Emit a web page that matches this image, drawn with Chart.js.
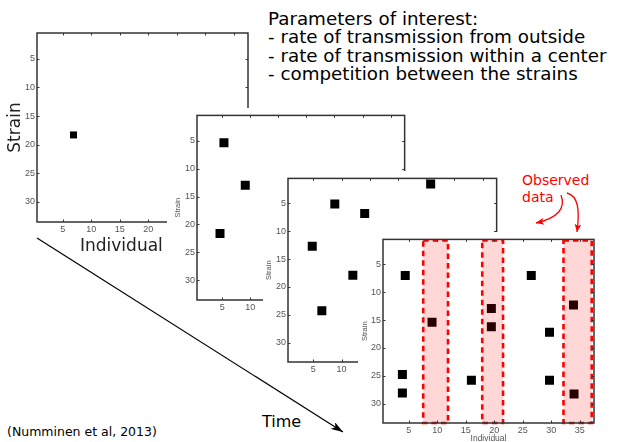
<!DOCTYPE html>
<html>
<head>
<meta charset="utf-8">
<script src="https://cdn.jsdelivr.net/npm/chart.js@4.4.1/dist/chart.umd.min.js"></script>
<style>
  html, body { margin: 0; padding: 0; background: #fff; }
  #stage { position: relative; width: 622px; height: 442px; overflow: hidden; background: #fff;
           font-family: "DejaVu Sans", sans-serif; }
  .panel { position: absolute; background: #fff; display: block; }
  .txt { position: absolute; white-space: nowrap; color: #000; }
  #overlay { position: absolute; left: 0; top: 0; }
</style>
</head>
<body>
<div id="stage">
  <canvas id="snap1" class="panel"></canvas>
  <div class="txt" style="left:80px; top:234px; font-size:17px; line-height:22px; color:#222;">Individual</div>
  <canvas id="snap2" class="panel"></canvas>
  <canvas id="snap3" class="panel"></canvas>
  <canvas id="snap4" class="panel"></canvas>

  <div class="txt" style="left:268px; top:10px; font-size:18.3px; line-height:18.35px;">
    Parameters of interest:<br>- rate of transmission from outside<br>- rate of transmission within a center<br>- competition between the strains
  </div>
  <div class="txt" style="left:522px; top:172px; font-size:14px; line-height:16.6px; color:#ff0000;">Observed<br>data</div>
  <div class="txt" style="left:262px; top:412px; font-size:16px; line-height:19px;">Time</div>
  <div class="txt" style="left:7px; top:424px; font-size:12.5px; line-height:16px;">(Numminen et al, 2013)</div>

  <svg id="overlay" width="622" height="442" viewBox="0 0 622 442">
    <defs>
      <marker id="headBlack" viewBox="0 0 12 8" refX="12" refY="4" markerWidth="12" markerHeight="8"
              markerUnits="userSpaceOnUse" orient="auto">
        <path d="M0,0 L12,4 L0,8 L3,4 Z" fill="#000"/>
      </marker>
      <marker id="headRed" viewBox="0 0 8 7" refX="8" refY="3.5" markerWidth="8" markerHeight="7"
              markerUnits="userSpaceOnUse" orient="auto">
        <path d="M0,0 L8,3.5 L0,7 L2,3.5 Z" fill="#ff0000"/>
      </marker>
    </defs>
    <!-- time runs from the first snapshot towards the observed one -->
    <line x1="37" y1="238" x2="343" y2="432" stroke="#000" stroke-width="1.2" marker-end="url(#headBlack)"/>
    <!-- pointers from the note to the sampled columns -->
    <path d="M561,195 C566,208 558,218 536,223" fill="none" stroke="#ff0000" stroke-width="1.3" marker-end="url(#headRed)"/>
    <path d="M567,193 C578,196 580,209 577,232" fill="none" stroke="#ff0000" stroke-width="1.3" marker-end="url(#headRed)"/>
  </svg>
</div>

<script>
// Axis ticks shared by every snapshot
const individualTicks = [5, 10, 15, 20, 25, 30, 35];
const strainTicks = [5, 10, 15, 20, 25, 30];

// Colonisation snapshots: individual (column) and strain (row) of each carried strain
const snap1Individual = [6.9];
const snap1Strain = [18.3];

const snap2Individual = [5.3, 9.1, 4.6];
const snap2Strain = [5.4, 13.0, 21.6];

const snap3Individual = [8.8, 14.1, 4.8, 12.0, 6.5, 25.8];
const snap3Strain = [5.1, 6.8, 12.7, 17.9, 24.3, 1.5];

const snap4Individual = [4.4, 9.1, 3.9, 3.9, 16.0, 19.5, 19.5, 26.5, 29.7, 29.7, 33.9, 34.0];
const snap4Strain = [7.0, 15.4, 24.8, 28.1, 25.8, 12.9, 16.2, 7.0, 17.2, 25.8, 12.3, 28.3];

// Individuals that were actually sampled (column ranges)
const observedStart = [7.55, 17.9, 32.15];
const observedEnd = [11.9, 21.55, 37.1];

// Frame, inward tick marks and the sampled-column highlight
const framePlugin = {
  id: 'frame',
  afterDatasetsDraw(chart, args, opts) {
    if (!opts.bands) return;
    const { ctx, chartArea: a, scales: { x } } = chart;
    ctx.save();
    for (let i = 0; i < observedStart.length; i++) {
      const x0 = x.getPixelForValue(observedStart[i]);
      const x1 = x.getPixelForValue(observedEnd[i]);
      ctx.fillStyle = 'rgba(255,0,0,0.155)';
      ctx.fillRect(x0, a.top, x1 - x0, a.bottom - a.top);
      ctx.strokeStyle = '#ff0000';
      ctx.lineWidth = 2.6;
      ctx.setLineDash([5.5, 4]);
      ctx.strokeRect(x0, a.top + 1, x1 - x0, a.bottom - a.top - 1);
    }
    ctx.restore();
  },
  afterDraw(chart) {
    const { ctx, chartArea: a, scales: { x, y } } = chart;
    ctx.save();
    ctx.strokeStyle = '#3a3a3a';
    ctx.lineWidth = 1;
    ctx.beginPath();
    individualTicks.forEach(v => {
      const px = Math.round(x.getPixelForValue(v)) + 0.5;
      ctx.moveTo(px, a.bottom); ctx.lineTo(px, a.bottom - 2.5);
      ctx.moveTo(px, a.top); ctx.lineTo(px, a.top + 2.5);
    });
    strainTicks.forEach(v => {
      const py = Math.round(y.getPixelForValue(v)) + 0.5;
      ctx.moveTo(a.left, py); ctx.lineTo(a.left + 2.5, py);
      ctx.moveTo(a.right, py); ctx.lineTo(a.right - 2.5, py);
    });
    ctx.stroke();
    ctx.lineWidth = 1.5;
    ctx.strokeStyle = '#333';
    ctx.strokeRect(a.left, a.top, a.right - a.left, a.bottom - a.top);
    ctx.restore();
  }
};

const tickFont = { family: 'Liberation Sans', size: 9 };

function drawSnapshot(cfg) {
  const canvas = document.getElementById(cfg.id);
  const w = cfg.pad.left + cfg.box.width + cfg.pad.right;
  const h = cfg.pad.top + cfg.box.height + cfg.pad.bottom;
  canvas.width = w; canvas.height = h;
  canvas.style.width = w + 'px'; canvas.style.height = h + 'px';
  canvas.style.left = (cfg.box.left - cfg.pad.left) + 'px';
  canvas.style.top = (cfg.box.top - cfg.pad.top) + 'px';

  const points = cfg.individual.map((v, i) => ({ x: v, y: cfg.strain[i] }));

  return new Chart(canvas, {
    type: 'scatter',
    data: {
      datasets: [{
        data: points,
        pointStyle: 'rect',
        pointRadius: cfg.marker / Math.SQRT2,
        pointHoverRadius: cfg.marker / Math.SQRT2,
        backgroundColor: '#000',
        borderWidth: 0
      }]
    },
    options: {
      responsive: false,
      animation: false,
      events: [],
      layout: { padding: { top: cfg.pad.top, right: cfg.pad.right, left: 0, bottom: 0 } },
      plugins: {
        legend: { display: false },
        tooltip: { enabled: false },
        frame: { bands: !!cfg.bands }
      },
      scales: {
        x: {
          type: 'linear', min: 0.5, max: 37.5,
          afterBuildTicks(s) { s.ticks = individualTicks.map(v => ({ value: v })); },
          afterFit(s) { s.height = cfg.pad.bottom; },
          grid: { display: false, drawTicks: false },
          border: { display: false },
          ticks: { font: tickFont, color: '#555', padding: 2, maxRotation: 0, autoSkip: false },
          title: cfg.xTitle ? {
            display: true, text: cfg.xTitle.text, color: cfg.xTitle.color,
            font: { family: cfg.xTitle.family, size: cfg.xTitle.size, lineHeight: 1 },
            padding: { top: 0, bottom: cfg.xTitle.pad }
          } : { display: false }
        },
        y: {
          type: 'linear', min: 0.5, max: 33.5, reverse: true,
          afterBuildTicks(s) { s.ticks = strainTicks.map(v => ({ value: v })); },
          afterFit(s) { s.width = cfg.pad.left; },
          grid: { display: false, drawTicks: false },
          border: { display: false },
          ticks: { font: tickFont, color: '#555', padding: 2, autoSkip: false },
          title: {
            display: true, text: cfg.yTitle.text, color: cfg.yTitle.color,
            font: { family: cfg.yTitle.family, size: cfg.yTitle.size, lineHeight: 1 },
            padding: { top: cfg.yTitle.pad, bottom: 0 }
          }
        }
      }
    },
    plugins: [framePlugin]
  });
}

const smallStrain = { text: 'Strain', family: 'Liberation Sans', size: 7.5, color: '#555' };

drawSnapshot({
  id: 'snap1', individual: snap1Individual, strain: snap1Strain, marker: 7,
  box: { left: 37, top: 33, width: 211, height: 189 },
  pad: { left: 37, top: 8, right: 10, bottom: 14 },
  yTitle: { text: 'Strain', family: 'DejaVu Sans', size: 17, color: '#222', pad: 7.3 }
});
drawSnapshot({
  id: 'snap2', individual: snap2Individual, strain: snap2Strain, marker: 9,
  box: { left: 197, top: 112, width: 210, height: 188 },
  pad: { left: 30, top: 4, right: 4, bottom: 14 },
  yTitle: Object.assign({ pad: 7.25 }, smallStrain)
});
drawSnapshot({
  id: 'snap3', individual: snap3Individual, strain: snap3Strain, marker: 9,
  box: { left: 288, top: 174, width: 211, height: 188 },
  pad: { left: 25, top: 3, right: 4, bottom: 14 },
  yTitle: Object.assign({ pad: 2.25 }, smallStrain)
});
drawSnapshot({
  id: 'snap4', individual: snap4Individual, strain: snap4Strain, marker: 9, bands: true,
  box: { left: 383, top: 235, width: 211, height: 188 },
  pad: { left: 25, top: 3, right: 8, bottom: 22 },
  yTitle: Object.assign({ pad: 3.25 }, smallStrain),
  xTitle: { text: 'Individual', family: 'Liberation Sans', size: 8.5, color: '#555', pad: 2.45 }
});
</script>
</body>
</html>
